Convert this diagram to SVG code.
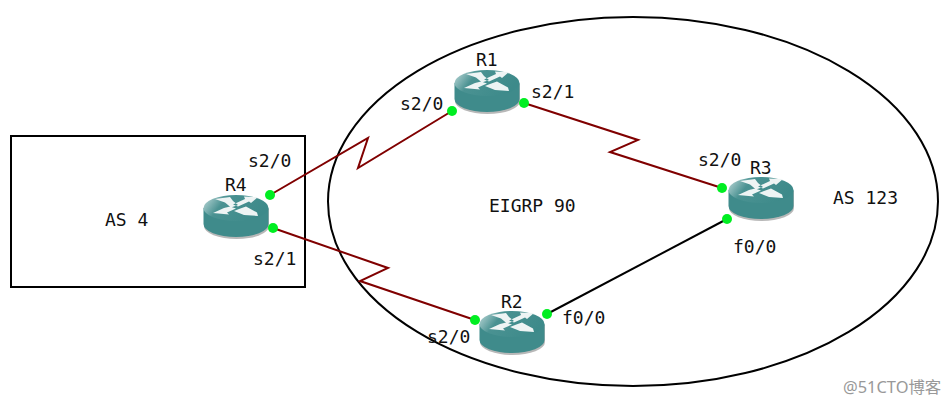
<svg xmlns="http://www.w3.org/2000/svg" width="951" height="406" viewBox="0 0 951 406">
<style>
.t{font-family:"DejaVu Sans Mono","Liberation Mono",monospace;font-size:18px;fill:#111}
.b{fill:none;stroke:#000;stroke-width:2}
.s{fill:none;stroke:#800000;stroke-width:2}
.e{fill:none;stroke:#000;stroke-width:2}
.d{fill:#00ee22}
</style>
<defs>
<linearGradient id="g" x1="0" y1="0" x2="1" y2="0.3"><stop offset="0" stop-color="#c4dcdc"/><stop offset="0.35" stop-color="#4a9292"/><stop offset="1" stop-color="#3d8a8a"/></linearGradient>
<g id="rt">
<path d="M-32.500 -8V9A32.500 13 0 0 0 32.500 9V-8Z" fill="#b8b8b8" transform="translate(0.500,1)"/>
<path d="M-32.500 -8V8A32.500 13 0 0 0 32.500 8V-8Z" fill="#3f8b8b"/>
<ellipse cx="0" cy="-8" rx="32.500" ry="13" fill="url(#g)"/>
<path d="M-21 -17L-6 -19L-3 -15L2 -11L-5 -8.500L-11 -13.500ZM22 -19L8 -19.500L9 -17L-3 -11.500L2 -9.500L13 -14.500L15 -13ZM-23 -3L-12 -8L-6 -9.500L0 -7.500L-9 -3.500L-7 -1.500ZM3 -7L10 -9.500L21 -3.500L22 0L8 -1L-2 -5Z" fill="#eef4f4"/>
</g>
</defs>
<rect width="951" height="406" fill="#fff"/>
<g id="areas">
<rect x="11" y="136" width="294" height="151" class="b"/>
<ellipse cx="633" cy="201.500" rx="305" ry="184.500" class="e"/>
</g>
<g id="connectors">
<path class="s" d="M270 195L368 138L358 168L452 111"/>
<path class="s" d="M524 103L638 140L610 152L722 188"/>
<path class="s" d="M273 228L388 268L360 281L475 320"/>
<path d="M547 314L727 219" fill="none" stroke="#000" stroke-width="2"/>
</g>
<g id="R4"><use href="#rt" x="236" y="216"/><text class="t" x="225" y="191">R4</text>
<circle class="d" cx="270" cy="195" r="5"/><circle class="d" cx="273" cy="228" r="5"/>
<text class="t" x="248" y="167">s2/0</text><text class="t" x="253" y="265">s2/1</text></g>
<g id="R1"><use href="#rt" x="487" y="91"/><text class="t" x="476" y="66">R1</text>
<circle class="d" cx="452" cy="111" r="5"/><circle class="d" cx="524" cy="103" r="5"/>
<text class="t" x="400" y="110">s2/0</text><text class="t" x="531" y="98">s2/1</text></g>
<g id="R3"><use href="#rt" x="761" y="198"/><text class="t" x="750" y="174">R3</text>
<circle class="d" cx="722" cy="188" r="5"/><circle class="d" cx="727" cy="219" r="5"/>
<text class="t" x="698" y="166">s2/0</text><text class="t" x="733" y="253">f0/0</text></g>
<g id="R2"><use href="#rt" x="512" y="332"/><text class="t" x="501" y="308">R2</text>
<circle class="d" cx="475" cy="320" r="5"/><circle class="d" cx="547" cy="314" r="5"/>
<text class="t" x="427" y="343">s2/0</text><text class="t" x="562" y="324">f0/0</text></g>
<g id="labels">
<text class="t" x="105" y="226">AS 4</text>
<text class="t" x="489" y="212">EIGRP 90</text>
<text class="t" x="833" y="204">AS 123</text>
<text x="843" y="393" font-family="'Noto Sans','Noto Sans CJK SC',sans-serif" font-size="16.400" fill="#999">@51CTO博客</text>
</g>
</svg>
